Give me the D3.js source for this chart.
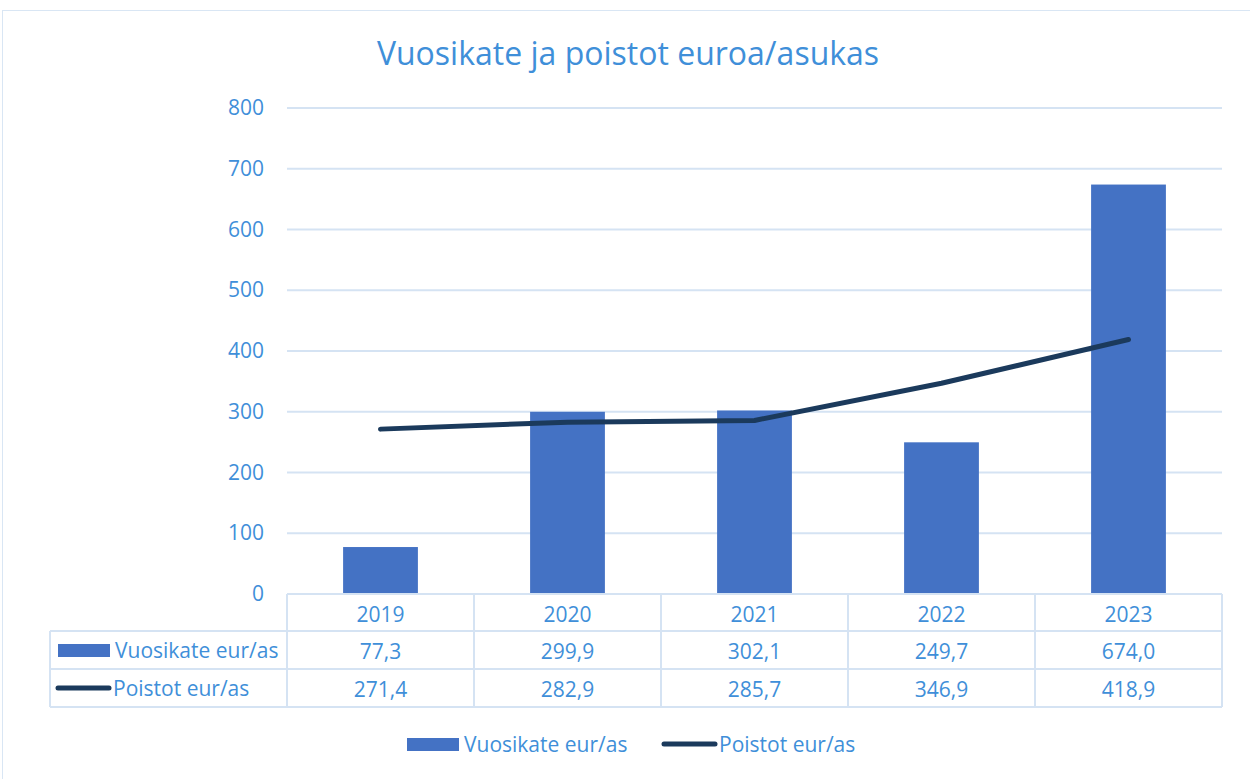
<!DOCTYPE html>
<html>
<head>
<meta charset="utf-8">
<script src="https://cdn.jsdelivr.net/npm/d3@7"></script>
<style>
  body { margin: 0; background: #fff; }
  text { font-family: "Open Sans", "Noto Sans", sans-serif; }
</style>
</head>
<body>
<div class="chart"></div>
<script>
const years = ['2019', '2020', '2021', '2022', '2023']
const vuosikate = [77.3, 299.9, 302.1, 249.7, 674.0]
const poistot = [271.4, 282.9, 285.7, 346.9, 418.9]
const yTicks = [0, 100, 200, 300, 400, 500, 600, 700, 800]
const seriesNames = ['Vuosikate eur/as', 'Poistot eur/as']

const width = 1250
const height = 779
const textColor = '#3f8fd9'
const gridColor = '#d5e3f3'
const barColor = '#4472c4'
const lineColor = '#1b3a5c'
const fmt = v => v.toFixed(1).replace('.', ',')

const svg = d3.select('.chart')
  .append('svg')
  .attr('width', width)
  .attr('height', height)

// outer frame
svg.append('rect')
  .attr('x', 2.5).attr('y', 10.5)
  .attr('width', 1260).attr('height', 780)
  .attr('fill', 'none')
  .attr('stroke', '#d9e6f4')

svg.append('text')
  .attr('x', 628).attr('y', 65)
  .attr('text-anchor', 'middle')
  .attr('fill', textColor)
  .style('font-size', '32px')
  .text('Vuosikate ja poistot euroa/asukas')

const x = d3.scaleBand()
  .domain(years)
  .range([287, 1222])
  .paddingInner(0.6)
  .paddingOuter(0.3)

const band = d3.scaleBand().domain(years).range([287, 1222])

const y = d3.scaleLinear()
  .domain([0, 800])
  .range([594, 108])

// gridlines
svg.append('g')
  .selectAll('line')
  .data(yTicks)
  .enter()
  .append('line')
  .attr('x1', 287).attr('x2', 1222)
  .attr('y1', d => y(d)).attr('y2', d => y(d))
  .attr('stroke', gridColor)
  .attr('stroke-width', 2)

const yAxis = d3.axisLeft(y).tickValues(yTicks).tickSize(0).tickPadding(0)
const gy = svg.append('g')
  .attr('transform', 'translate(264,0)')
  .call(yAxis)
gy.select('.domain').remove()
gy.selectAll('text')
  .attr('fill', textColor)
  .style('font-size', '21px')
  .style('font-family', '"Open Sans", sans-serif')

svg.selectAll('rect.bar')
  .data(vuosikate)
  .enter()
  .append('rect')
  .attr('class', 'bar')
  .attr('x', (d, i) => x(years[i]))
  .attr('width', x.bandwidth())
  .attr('y', d => y(d))
  .attr('height', d => y(0) - y(d))
  .attr('fill', barColor)

const line = d3.line()
  .x((d, i) => band(years[i]) + band.bandwidth() / 2)
  .y(d => y(d))

svg.append('path')
  .datum(poistot)
  .attr('d', line)
  .attr('fill', 'none')
  .attr('stroke', lineColor)
  .attr('stroke-width', 5)
  .attr('stroke-linejoin', 'round')
  .attr('stroke-linecap', 'round')

// data table
const rowY = [594, 631, 669, 707]
const table = svg.append('g')
  .attr('stroke', gridColor)
  .attr('stroke-width', 2)

table.append('line').attr('x1', 287).attr('x2', 1222).attr('y1', rowY[0]).attr('y2', rowY[0])
table.append('line').attr('x1', 50).attr('x2', 1222).attr('y1', rowY[1]).attr('y2', rowY[1])
table.append('line').attr('x1', 50).attr('x2', 1222).attr('y1', rowY[2]).attr('y2', rowY[2])
table.append('line').attr('x1', 50).attr('x2', 1222).attr('y1', rowY[3]).attr('y2', rowY[3])
table.append('line').attr('x1', 50).attr('x2', 50).attr('y1', rowY[1]).attr('y2', rowY[3])
table.selectAll('line.v')
  .data(years.concat(['end']))
  .enter()
  .append('line')
  .attr('x1', (d, i) => 287 + i * band.bandwidth())
  .attr('x2', (d, i) => 287 + i * band.bandwidth())
  .attr('y1', rowY[0]).attr('y2', rowY[3])

const cellText = (txt, cx, cy) => svg.append('text')
  .attr('x', cx).attr('y', cy)
  .attr('text-anchor', 'middle')
  .attr('dominant-baseline', 'central')
  .attr('fill', textColor)
  .style('font-size', '21px')
  .text(txt)

years.forEach((yr, i) => {
  const cx = band(yr) + band.bandwidth() / 2
  cellText(yr, cx, (rowY[0] + rowY[1]) / 2 + 1)
  cellText(fmt(vuosikate[i]), cx, (rowY[1] + rowY[2]) / 2 + 1)
  cellText(fmt(poistot[i]), cx, (rowY[2] + rowY[3]) / 2 + 1)
})

function legendItem(g, type, lx, ly, label) {
  if (type === 'bar') {
    g.append('rect')
      .attr('x', lx).attr('y', ly - 6)
      .attr('width', 52).attr('height', 13)
      .attr('fill', barColor)
  } else {
    g.append('line')
      .attr('x1', lx + 2).attr('x2', lx + 53)
      .attr('y1', ly).attr('y2', ly)
      .attr('stroke', lineColor)
      .attr('stroke-width', 5)
      .attr('stroke-linecap', 'round')
  }
  g.append('text')
    .attr('x', lx + 57).attr('y', ly)
    .attr('dominant-baseline', 'central')
    .attr('fill', textColor)
    .style('font-size', '21px')
    .text(label)
}

const tl = svg.append('g')
legendItem(tl, 'bar', 58, 650, seriesNames[0])
legendItem(tl, 'line', 56, 688, seriesNames[1])

const bl = svg.append('g')
legendItem(bl, 'bar', 407, 744, seriesNames[0])
legendItem(bl, 'line', 662, 744, seriesNames[1])
</script>
</body>
</html>
